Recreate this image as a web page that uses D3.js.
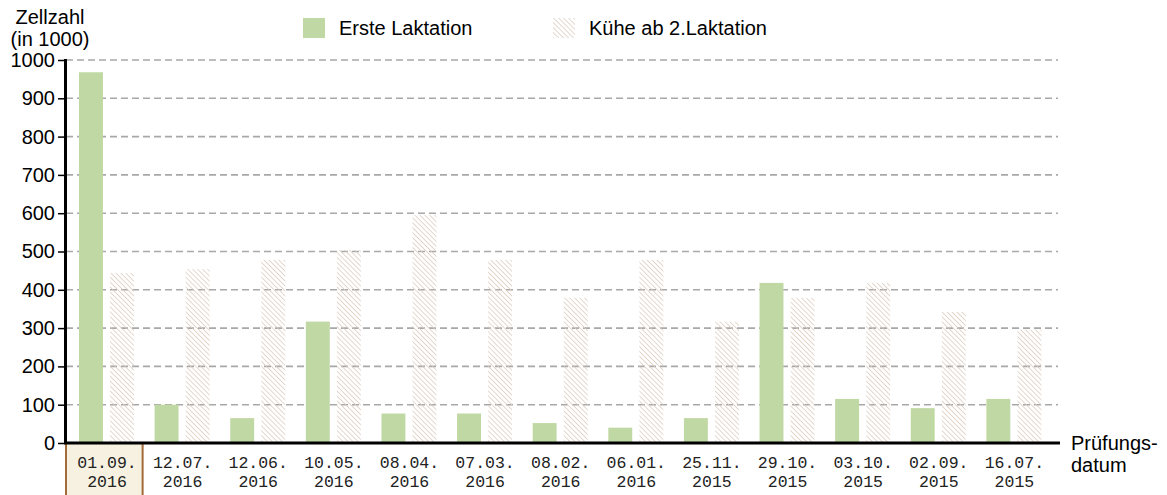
<!DOCTYPE html>
<html>
<head>
<meta charset="utf-8">
<script src="https://cdn.jsdelivr.net/npm/d3@7"></script>
<style>
  body { margin: 0; background: #fff; }
  text { font-family: "Liberation Sans", Arial, sans-serif; }
</style>
</head>
<body>
<div id="chart"></div>
<script>
// Data
var dates = ["01.09.2016", "12.07.2016", "12.06.2016", "10.05.2016", "08.04.2016", "07.03.2016",
  "08.02.2016", "06.01.2016", "25.11.2015", "29.10.2015", "03.10.2015", "02.09.2015", "16.07.2015"];
var ersteLaktation = [968, 100, 65, 317, 77, 77, 52, 40, 65, 418, 115, 91, 115];
var abZweiter = [444, 454, 478, 504, 595, 478, 379, 478, 317, 379, 418, 342, 296];
var seriesNames = ["Erste Laktation", "Kühe ab 2.Laktation"];
var yTicks = [0, 100, 200, 300, 400, 500, 600, 700, 800, 900, 1000];

var svgWidth = 1167;
var svgHeight = 495;

var svg = d3.select("#chart")
  .append("svg")
  .attr("width", svgWidth)
  .attr("height", svgHeight);

// hatch pattern for the second series
var defs = svg.append("defs");
var hatch = defs.append("pattern")
  .attr("id", "hatch")
  .attr("patternUnits", "userSpaceOnUse")
  .attr("width", 3.5)
  .attr("height", 3.5)
  .attr("patternTransform", "rotate(-45)");
hatch.append("line")
  .attr("x1", 0).attr("y1", 0)
  .attr("x2", 0).attr("y2", 3.5)
  .attr("stroke", "#dccabd")
  .attr("stroke-width", 1.5);

var xGroup = d3.scaleBand()
  .domain(dates)
  .range([65, 1048])
  .paddingInner(0);

var xSub = d3.scaleBand()
  .domain(seriesNames)
  .range([14, 69])
  .paddingInner(0.23);

var yScale = d3.scaleLinear()
  .domain([0, 1000])
  .range([443, 60]);

// gridlines
svg.append("g")
  .selectAll("line")
  .data(yTicks.slice(1))
  .enter()
  .append("line")
  .attr("x1", 66)
  .attr("x2", 1058)
  .attr("y1", d => yScale(d))
  .attr("y2", d => yScale(d))
  .attr("stroke", "#a8a8a8")
  .attr("stroke-width", 1.6)
  .attr("stroke-dasharray", "7,4");

// highlighted first category box
svg.append("rect")
  .attr("x", xGroup(dates[0]) + 1)
  .attr("y", 443)
  .attr("width", xGroup.bandwidth() + 1)
  .attr("height", 60)
  .attr("fill", "#f6f1e0")
  .attr("stroke", "#a36a3a")
  .attr("stroke-width", 2);

var rows = dates.map((d, i) => ({ date: d, values: [ersteLaktation[i], abZweiter[i]] }));

var groups = svg.append("g")
  .selectAll("g")
  .data(rows)
  .enter()
  .append("g")
  .attr("transform", d => `translate(${xGroup(d.date)},0)`);

groups.selectAll("rect")
  .data(d => d.values.map((v, j) => ({ key: seriesNames[j], value: v })))
  .enter()
  .append("rect")
  .attr("x", d => xSub(d.key))
  .attr("y", d => yScale(d.value))
  .attr("width", xSub.bandwidth())
  .attr("height", d => yScale(0) - yScale(d.value))
  .attr("fill", d => d.key === seriesNames[0] ? "#c0d8a3" : "url(#hatch)");

// category labels (two lines, monospaced)
var labels = groups.append("text")
  .attr("text-anchor", "middle")
  .style("font-family", "'Liberation Mono', monospace")
  .style("font-size", "16.5px")
  .attr("fill", "#222");
labels.append("tspan")
  .attr("x", 42)
  .attr("y", 468)
  .text(d => d.date.slice(0, 6));
labels.append("tspan")
  .attr("x", 42)
  .attr("y", 487)
  .text(d => d.date.slice(6));

// y axis
var leftAxis = d3.axisLeft(yScale)
  .tickValues(yTicks)
  .tickFormat(d3.format("d"))
  .tickSize(7)
  .tickPadding(3);

var yAxisG = svg.append("g")
  .attr("transform", "translate(65,0)")
  .call(leftAxis);
yAxisG.select(".domain").remove();
yAxisG.selectAll(".tick line").attr("stroke", "#000").attr("stroke-width", 1.5);
yAxisG.selectAll(".tick text")
  .style("font-family", "'Liberation Sans', Arial, sans-serif")
  .style("font-size", "20px")
  .attr("fill", "#000");

svg.append("line")
  .attr("x1", 65.5).attr("x2", 65.5)
  .attr("y1", 59).attr("y2", 444)
  .attr("stroke", "#000")
  .attr("stroke-width", 3);

// x axis line
svg.append("line")
  .attr("x1", 64).attr("x2", 1060)
  .attr("y1", 443).attr("y2", 443)
  .attr("stroke", "#000")
  .attr("stroke-width", 3);

// axis titles
var yTitle = svg.append("text")
  .attr("text-anchor", "middle")
  .style("font-size", "20px")
  .attr("fill", "#000");
yTitle.append("tspan").attr("x", 50).attr("y", 24).text("Zellzahl");
yTitle.append("tspan").attr("x", 50).attr("y", 46).text("(in 1000)");

var xTitle = svg.append("text")
  .style("font-size", "20px")
  .attr("fill", "#000");
xTitle.append("tspan").attr("x", 1071).attr("y", 450).text("Prüfungs-");
xTitle.append("tspan").attr("x", 1071).attr("y", 472).text("datum");

// legend
var legendX = [303, 553];
var legend = svg.append("g")
  .selectAll("g")
  .data(seriesNames)
  .enter()
  .append("g")
  .attr("transform", (d, i) => `translate(${legendX[i]},18)`);

legend.append("rect")
  .attr("width", 22)
  .attr("height", 20)
  .attr("fill", (d, i) => i === 0 ? "#c0d8a3" : "url(#hatch)");

legend.append("text")
  .attr("x", 36)
  .attr("y", 17)
  .style("font-size", "20px")
  .attr("fill", "#000")
  .text(d => d);
</script>
</body>
</html>
